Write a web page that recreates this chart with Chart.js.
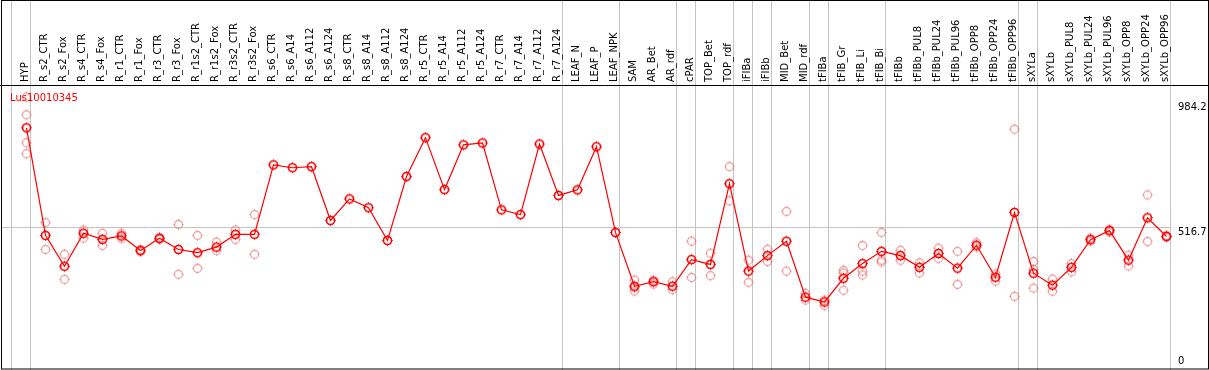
<!DOCTYPE html>
<html>
<head>
<meta charset="utf-8">
<script src="https://cdn.jsdelivr.net/npm/chart.js@4/dist/chart.umd.min.js"></script>
<style>
  html, body { margin: 0; padding: 0; background: #fff; }
  canvas { display: block; }
</style>
</head>
<body>
<canvas id="expr" width="1209" height="370"></canvas>
<script>
const seriesName = 'Lus10010345';

const categories = [
    'HYP', 'R_s2_CTR', 'R_s2_Fox', 'R_s4_CTR', 'R_s4_Fox', 'R_r1_CTR', 'R_r1_Fox', 'R_r3_CTR', 'R_r3_Fox',
    'R_r1s2_CTR', 'R_r1s2_Fox', 'R_r3s2_CTR', 'R_r3s2_Fox', 'R_s6_CTR', 'R_s6_A14', 'R_s6_A112', 'R_s6_A124',
    'R_s8_CTR', 'R_s8_A14', 'R_s8_A112', 'R_s8_A124', 'R_r5_CTR', 'R_r5_A14', 'R_r5_A112', 'R_r5_A124',
    'R_r7_CTR', 'R_r7_A14', 'R_r7_A112', 'R_r7_A124', 'LEAF_N', 'LEAF_P', 'LEAF_NPK', 'SAM', 'AR_Bet', 'AR_rdf',
    'cPAR', 'TOP_Bet', 'TOP_rdf', 'iFIBa', 'iFIBb', 'MID_Bet', 'MID_rdf', 'tFIBa', 'tFIB_Gr', 'tFIB_Li', 'tFIB_Bi',
    'tFIBb', 'tFIBb_PUL8', 'tFIBb_PUL24', 'tFIBb_PUL96', 'tFIBb_OPP8', 'tFIBb_OPP24', 'tFIBb_OPP96',
    'sXYLa', 'sXYLb', 'sXYLb_PUL8', 'sXYLb_PUL24', 'sXYLb_PUL96', 'sXYLb_OPP8', 'sXYLb_OPP24', 'sXYLb_OPP96'
];

// mean expression per sample
const meanValues = [
    890, 486, 370, 494, 471, 484, 429, 475, 433, 421,
    442, 490, 490, 751, 740, 744, 542, 623, 590, 467,
    707, 853, 658, 826, 833, 582, 564, 829, 636, 657,
    819, 497, 295, 312, 295, 395, 377, 680, 352, 410,
    464, 254, 236, 325, 380, 426, 410, 366, 418, 363,
    449, 329, 572, 344, 299, 366, 470, 504, 393, 552,
    482
];

// individual replicates (null = no replicate shown)
const rep1 = [
    1006, 534, 415, 506, 494, 494, 433, 479, 527, 486,
    461, 506, 564, null, null, null, null, null, null, null,
    null, null, null, null, null, null, null, null, null, null,
    null, null, 318, 318, 312, 464, 419, 744, 393, 434,
    576, 268, 243, 355, 448, 497, 430, 383, 438, 426,
    459, 341, 885, 388, 322, 380, 476, 509, 412, 638,
    486
];
const rep2 = [
    939, 433, 321, 476, 448, 475, 425, 471, 340, 362,
    429, 471, 415, null, null, null, null, null, null, null,
    null, null, null, null, null, null, null, null, null, null,
    null, null, 277, 303, 282, 328, 335, 616, 310, 388,
    352, 243, 222, 280, 337, 386, 393, 345, 400, 302,
    442, 314, 257, 288, 276, 349, 464, 498, 371, 463,
    479
];
const rep3 = [
    834, null, null, null, null, null, null, null, null, null,
    null, null, null, null, null, null, null, null, null, null,
    null, null, null, null, null, null, null, null, null, null,
    null, null, 290, null, null, null, null, null, null, null,
    null, null, null, 345, 352, 393, null, null, null, null,
    null, null, null, 358, null, null, null, null, null, null,
    null
];
const rep4 = [
    793, null, null, null, null, null, null, null, null, null,
    null, null, null, null, null, null, null, null, null, null,
    null, null, null, null, null, null, null, null, null, null,
    null, null, null, null, null, null, null, null, null, null,
    null, null, null, null, null, null, null, null, null, null,
    null, null, null, null, null, null, null, null, null, null,
    null
];

const yTicks = [0, 516.7, 984.2];
// last sample index of each group (separator drawn right after it)
const groupEnds = [-1, 0, 28, 31, 34, 35, 37, 38, 39, 41, 42, 45, 52, 53, 60];

const FONT = '10px "DejaVu Sans"';
const REP_COLOR = 'rgba(226, 105, 105, 0.6)';

// circle marker with four tiny stubs, like the original plot
function makeMarker(color, lw) {
    const c = document.createElement('canvas');
    c.width = 15;
    c.height = 15;
    const g = c.getContext('2d');
    g.strokeStyle = color;
    g.lineWidth = lw;
    g.beginPath();
    g.arc(7.5, 7.5, 4, 0, Math.PI * 2);
    g.stroke();
    g.lineWidth = 1;
    g.beginPath();
    g.moveTo(7.5, 2.2); g.lineTo(7.5, 3.5);
    g.moveTo(7.5, 11.5); g.lineTo(7.5, 12.8);
    g.moveTo(2.2, 7.5); g.lineTo(3.5, 7.5);
    g.moveTo(11.5, 7.5); g.lineTo(12.8, 7.5);
    g.stroke();
    return c;
}
const meanMarker = makeMarker('#ff0000', 1.6);
const repMarker = makeMarker(REP_COLOR, 1.3);

const framePlugin = {
    id: 'framePlugin',
    beforeDraw(chart) {
        const { ctx, width, height, scales: { x, y } } = chart;
        const step = x.getPixelForValue(1) - x.getPixelForValue(0);
        ctx.save();
        ctx.fillStyle = '#fff';
        ctx.fillRect(0, 0, width, height);
        ctx.strokeStyle = '#c4c4c4';
        ctx.lineWidth = 1;
        let lastX = 0;
        groupEnds.forEach(i => {
            const px = Math.floor(x.getPixelForValue(0) + i * step + 4) + 0.5;
            lastX = px;
            ctx.beginPath();
            ctx.moveTo(px, 0);
            ctx.lineTo(px, height);
            ctx.stroke();
        });
        const gy = Math.round(y.getPixelForValue(yTicks[1])) + 0.5;
        ctx.beginPath();
        ctx.moveTo(2, gy);
        ctx.lineTo(lastX, gy);
        ctx.stroke();
        ctx.restore();
    },
    afterDraw(chart) {
        const { ctx, width, height, chartArea, scales: { y } } = chart;
        ctx.save();
        ctx.strokeStyle = '#000';
        ctx.lineWidth = 1;
        ctx.strokeRect(1.5, 0.5, width - 2, height - 1.5);
        ctx.beginPath();
        ctx.moveTo(0, chartArea.top - 0.5);
        ctx.lineTo(width, chartArea.top - 0.5);
        ctx.stroke();

        ctx.font = FONT;
        ctx.textBaseline = 'top';
        ctx.textAlign = 'left';
        ctx.fillStyle = '#000';
        yTicks.forEach(v => {
            const py = Math.min(y.getPixelForValue(v), chartArea.bottom - 8);
            ctx.fillText(String(v), chartArea.right + 2, py);
        });

        ctx.fillStyle = '#ff0000';
        ctx.fillText(chart.data.datasets[0].label, 10, chartArea.top + 7);
        ctx.restore();
    }
};

function repDataset(values) {
    return {
        label: 'rep',
        data: values,
        showLine: false,
        pointStyle: repMarker,
        pointRadius: 4,
        pointHoverRadius: 4,
        pointBorderColor: REP_COLOR,
        pointBackgroundColor: 'rgba(0,0,0,0)'
    };
}

new Chart(document.getElementById('expr'), {
    type: 'line',
    data: {
        labels: categories,
        datasets: [
            {
                label: seriesName,
                data: meanValues,
                borderColor: '#ff0000',
                borderWidth: 1.2,
                tension: 0,
                pointStyle: meanMarker,
                pointRadius: 4,
                pointHoverRadius: 4,
                pointBorderColor: '#ff0000',
                pointBackgroundColor: 'rgba(0,0,0,0)'
            },
            repDataset(rep1),
            repDataset(rep2),
            repDataset(rep3),
            repDataset(rep4)
        ]
    },
    options: {
        responsive: false,
        animation: false,
        events: [],
        layout: { padding: { left: 17, right: 0, top: 0, bottom: 4 } },
        plugins: {
            legend: { display: false },
            tooltip: { enabled: false }
        },
        scales: {
            x: {
                type: 'category',
                position: 'top',
                offset: true,
                grid: { display: false, drawTicks: false },
                border: { display: false },
                ticks: {
                    autoSkip: false,
                    minRotation: 90,
                    maxRotation: 90,
                    padding: 4,
                    labelOffset: 11,
                    color: '#000',
                    font: { family: 'DejaVu Sans', size: 10 }
                },
                afterFit(scale) { scale.height = 86; }
            },
            y: {
                position: 'right',
                min: 0,
                max: 1047,
                grid: { display: false, drawTicks: false },
                border: { display: false },
                ticks: { display: false },
                afterBuildTicks(scale) { scale.ticks = yTicks.map(v => ({ value: v })); },
                afterFit(scale) { scale.width = 33; }
            }
        }
    },
    plugins: [framePlugin]
});
</script>
</body>
</html>
